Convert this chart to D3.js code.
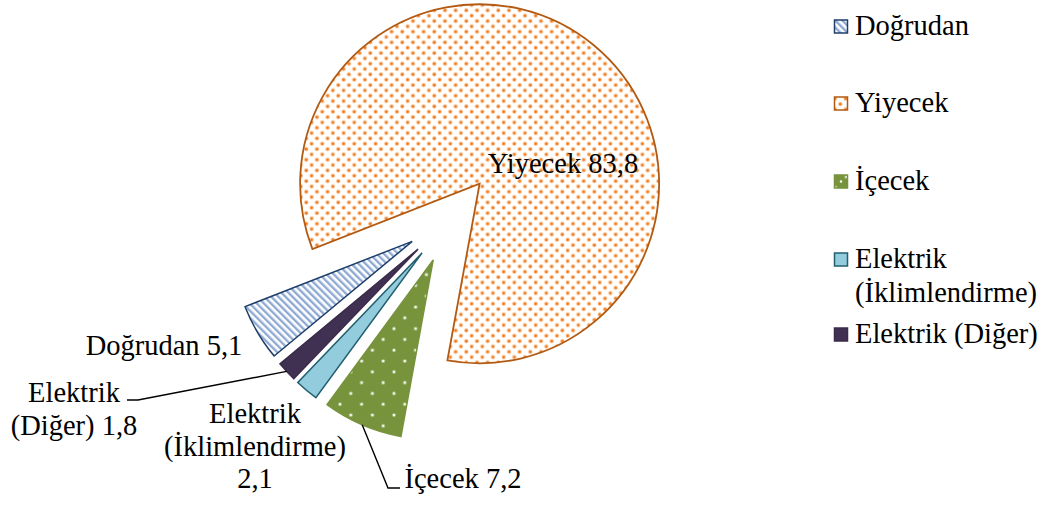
<!DOCTYPE html>
<html>
<head>
<meta charset="utf-8">
<script src="https://cdn.jsdelivr.net/npm/d3@7/dist/d3.min.js"></script>
<style>
  html, body { margin: 0; padding: 0; background: #fff; }
  svg { display: block; }
  text { font-family: "Liberation Serif", "Times New Roman", serif; fill: #000; }
</style>
</head>
<body>
<svg id="chart" width="1048" height="505"></svg>
<script>
// ---- data ----
const categories = ["Doğrudan", "Yiyecek", "İçecek", "Elektrik (İklimlendirme)", "Elektrik (Diğer)"];
const values = [5.1, 83.8, 7.2, 2.1, 1.8];
const valueLabels = ["5,1", "83,8", "7,2", "2,1", "1,8"];
const legendLabels = [["Doğrudan"], ["Yiyecek"], ["İçecek"], ["Elektrik", "(İklimlendirme)"], ["Elektrik (Diğer)"]];
const dataLabelLines = [["Doğrudan 5,1"], ["Yiyecek 83,8"], ["İçecek 7,2"], ["Elektrik", "(İklimlendirme)", "2,1"], ["Elektrik", "(Diğer) 1,8"]];

// ---- styles / layout ----
const fills = ["url(#pDog)", "url(#pYiy)", "url(#pIce)", "#93CDDD", "#403152"];
const strokes = ["#1F3F6A", "#B35A12", "#77933C", "#215E6E", "#3A2B4A"];
const cx = 451, cy = 218.5, R = 179.5, explode = 45;
const startDeg = 230.3;
const fontSize = 28.5;
const lineH = 32.7;
// label anchor (middle x, first baseline y)
const labelPos = [[164, 355], [563, 173], [463, 488], [255, 423], [74, 402]];
// leader elbows (null = no leader)
const leaders = [null, null, [[388, 488], [400, 488]], null, [[138, 400], [127, 400]]];

const svg = d3.select("#chart");
const defs = svg.append("defs");

// Doğrudan: diagonal stripes
const pd = defs.append("pattern").attr("id", "pDog").attr("patternUnits", "userSpaceOnUse")
  .attr("width", 5).attr("height", 5).attr("patternTransform", "rotate(-45)");
pd.append("rect").attr("width", 5).attr("height", 5).attr("fill", "#fff");
pd.append("rect").attr("width", 2.4).attr("height", 5).attr("fill", "#8FAAD2");

// Yiyecek: orange dots
const s1 = 10.67;
const py = defs.append("pattern").attr("id", "pYiy").attr("patternUnits", "userSpaceOnUse")
  .attr("width", s1).attr("height", s1);
py.append("rect").attr("width", s1).attr("height", s1).attr("fill", "#fff");
[[2.7, 2.7], [2.7 + s1 / 2, 2.7 + s1 / 2]].forEach(([x, y]) => {
  py.append("circle").attr("cx", x).attr("cy", y).attr("r", 2.1).attr("fill", "#F9BC88");
  py.append("circle").attr("cx", x).attr("cy", y).attr("r", 1.3).attr("fill", "#F07A1C");
});

// İçecek: green with white dots
const s2 = 21.6;
const pi = defs.append("pattern").attr("id", "pIce").attr("patternUnits", "userSpaceOnUse")
  .attr("width", s2).attr("height", s2);
pi.append("rect").attr("width", s2).attr("height", s2).attr("fill", "#77933C");
[[4, 4], [4 + s2 / 2, 4 + s2 / 2]].forEach(([x, y]) => {
  pi.append("circle").attr("cx", x).attr("cy", y).attr("r", 1.9).attr("fill", "#B9CB98");
  pi.append("circle").attr("cx", x).attr("cy", y).attr("r", 1.1).attr("fill", "#fff");
});

// ---- pie ----
const rad = d => d * Math.PI / 180;
const pie = d3.pie().sort(null).value(d => d)
  .startAngle(rad(startDeg)).endAngle(rad(startDeg + 360));
const arcs = pie(values);
const arc = d3.arc().innerRadius(0).outerRadius(R);

const g = svg.append("g").attr("transform", `translate(${cx},${cy})`);
const offs = arcs.map(a => {
  const m = (a.startAngle + a.endAngle) / 2;
  return [Math.sin(m) * explode, -Math.cos(m) * explode, m];
});

g.selectAll("path.slice").data(arcs).join("path")
  .attr("class", "slice")
  .attr("transform", (d, i) => `translate(${offs[i][0]},${offs[i][1]})`)
  .attr("d", arc)
  .attr("fill", (d, i) => fills[i])
  .attr("stroke", (d, i) => strokes[i])
  .attr("stroke-width", (d, i) => i === 1 ? 1.8 : 1.5)
  .attr("stroke-linejoin", "miter");

// leader lines
arcs.forEach((a, i) => {
  if (!leaders[i]) return;
  const m = offs[i][2];
  const px = cx + offs[i][0] + Math.sin(m) * R;
  const py2 = cy + offs[i][1] - Math.cos(m) * R;
  const pts = [[px, py2]].concat(leaders[i]);
  svg.append("path").attr("d", d3.line()(pts))
    .attr("fill", "none").attr("stroke", "#000").attr("stroke-width", 1.4);
});

// data labels
dataLabelLines.forEach((lines, i) => {
  const t = svg.append("text").attr("text-anchor", "middle").style("font-size", fontSize + "px");
  lines.forEach((ln, j) => {
    t.append("tspan").attr("x", labelPos[i][0]).attr("y", labelPos[i][1] + j * lineH).text(ln);
  });
});

// ---- legend ----
const legendX = 834, textX = 855;
const legendBase = [35, 112, 190, 268, 343];
categories.forEach((c, i) => {
  const b = legendBase[i];
  svg.append("rect").attr("x", legendX + 0.5).attr("y", b - 15).attr("width", 13).attr("height", 13)
    .attr("fill", i === 0 ? "url(#pDog)" : i === 1 ? "url(#pYiy)" : fills[i])
    .attr("stroke", strokes[i]).attr("stroke-width", 1.5);
  if (i === 2) {
    svg.append("circle").attr("cx", legendX + 7).attr("cy", b - 8.5).attr("r", 1.2).attr("fill", "#fff");
  }
  const t = svg.append("text").style("font-size", fontSize + "px");
  legendLabels[i].forEach((ln, j) => {
    t.append("tspan").attr("x", textX).attr("y", b + j * 34).text(ln);
  });
});
</script>
</body>
</html>
